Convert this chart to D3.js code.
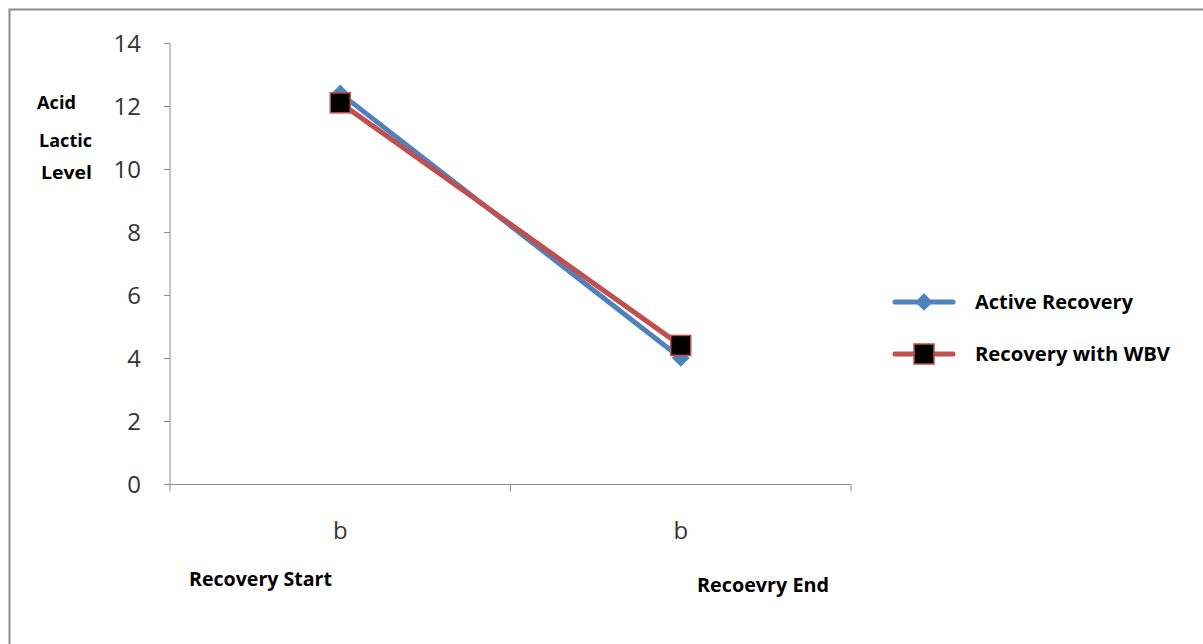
<!DOCTYPE html>
<html><head><meta charset="utf-8">
<script src="https://cdn.jsdelivr.net/npm/d3@7"></script>
<style>body{margin:0;background:#fff}svg{display:block}</style>
</head><body>
<svg id="c" width="1203" height="644"></svg>
<script>
const categories = ["Recovery Start", "Recovery End"];
const tickLabels = ["b", "b"];
const seriesNames = ["Active Recovery", "Recovery with WBV"];
const activeRecovery = [12.4, 4.0];
const recoveryWBV = [12.1, 4.4];
const yTicks = [0, 2, 4, 6, 8, 10, 12, 14];

const svg = d3.select("#c");
const font = "'Open Sans', 'Noto Sans', sans-serif";
// frame
svg.append("path").attr("d","M9.5,644 V9.5 H1203").attr("fill","none").attr("stroke","#8c8c8c").attr("stroke-width",2);

const x = d3.scaleBand().domain(categories).range([170, 851]).paddingInner(0).paddingOuter(0);
const y = d3.scaleLinear().domain([0, 14]).range([484, 43]);

// y axis
const ya = svg.append("g").attr("transform","translate(170,0)")
  .call(d3.axisLeft(y).tickValues(yTicks).tickSize(6).tickPadding(23).tickFormat(d3.format("d")));
ya.select(".domain").attr("stroke","#8c8c8c").attr("d","M0,43.5V484.5");
ya.selectAll(".tick line").attr("stroke","#8c8c8c");
ya.selectAll(".tick text").attr("font-family",font).attr("font-size",24).attr("fill","#333").attr("dy","0.34em");

// x axis
const xa = svg.append("g").attr("transform","translate(0,484.5)");
xa.append("line").attr("x1",170).attr("x2",851).attr("stroke","#8c8c8c");
const xticks = [x.range()[0], ...categories.map(c => x(c) + x.bandwidth())];
xa.selectAll(".xt").data(xticks).join("line").attr("x1",d=>d).attr("x2",d=>d).attr("y1",0).attr("y2",7).attr("stroke","#8c8c8c");
svg.selectAll(".bl").data(categories).join("text")
  .attr("x", d => x(d) + x.bandwidth()/2).attr("y", 539).attr("text-anchor","middle")
  .attr("font-family",font).attr("font-size",24).attr("fill","#333")
  .text((d,i) => tickLabels[i]);

// category labels
const boldFont = "'Open Sans', 'Noto Sans', sans-serif";
svg.append("text").attr("x",189).attr("y",586).attr("font-family",boldFont).attr("font-weight","bold").attr("font-size",19.5).attr("textLength",143).attr("lengthAdjust","spacingAndGlyphs").text(categories[0]);
svg.append("text").attr("x",697).attr("y",592).attr("font-family",boldFont).attr("font-weight","bold").attr("font-size",19.5).attr("textLength",132).attr("lengthAdjust","spacingAndGlyphs").text("Recoevry End");

// y title
[["Acid",37,109,39],["Lactic",39,147,53],["Level",41,179,51]].forEach(([t,xx,yy,w]) =>
  svg.append("text").attr("x",xx).attr("y",yy).attr("font-family",boldFont).attr("font-weight","bold").attr("font-size",18.5).attr("textLength",w).attr("lengthAdjust","spacingAndGlyphs").text(t));

const cx = c => x(c) + x.bandwidth()/2;
const line = d3.line().x((d,i) => cx(categories[i])).y(d => y(d));
const colors = ["#4f81bd", "#c0504d"];
const diamond = d3.symbol().type(d3.symbolDiamond2).size(200);

svg.append("path").datum(activeRecovery).attr("d", line).attr("fill","none").attr("stroke",colors[0]).attr("stroke-width",5);
svg.append("path").datum(recoveryWBV).attr("d", line).attr("fill","none").attr("stroke",colors[1]).attr("stroke-width",5);

svg.selectAll(".dm").data(activeRecovery).join("path")
  .attr("d", diamond).attr("transform",(d,i)=>`translate(${cx(categories[i])},${y(d)})`).attr("fill",colors[0]);
svg.selectAll(".sq").data(recoveryWBV).join("rect")
  .attr("x",(d,i)=>cx(categories[i])-10).attr("y",d=>y(d)-10).attr("width",20).attr("height",20)
  .attr("fill","#000").attr("stroke",colors[1]).attr("stroke-width",1.5);

// legend
const lg = svg.append("g");
const lw = [158, 195];
[0,1].forEach(i => {
  const ly = 302 + i*52;
  lg.append("line").attr("x1",895).attr("x2",953).attr("y1",ly).attr("y2",ly).attr("stroke",colors[i]).attr("stroke-width",5).attr("stroke-linecap","round");
  if (i===0) lg.append("path").attr("d",diamond).attr("transform",`translate(924,${ly})`).attr("fill",colors[0]);
  else lg.append("rect").attr("x",914).attr("y",ly-10).attr("width",20).attr("height",20).attr("fill","#000").attr("stroke",colors[1]).attr("stroke-width",1.5);
  lg.append("text").attr("x",975).attr("y",ly+7).attr("font-family",boldFont).attr("font-weight","bold").attr("font-size",19.5).attr("textLength",lw[i]).attr("lengthAdjust","spacingAndGlyphs").text(seriesNames[i]);
});
</script>
</body></html>
